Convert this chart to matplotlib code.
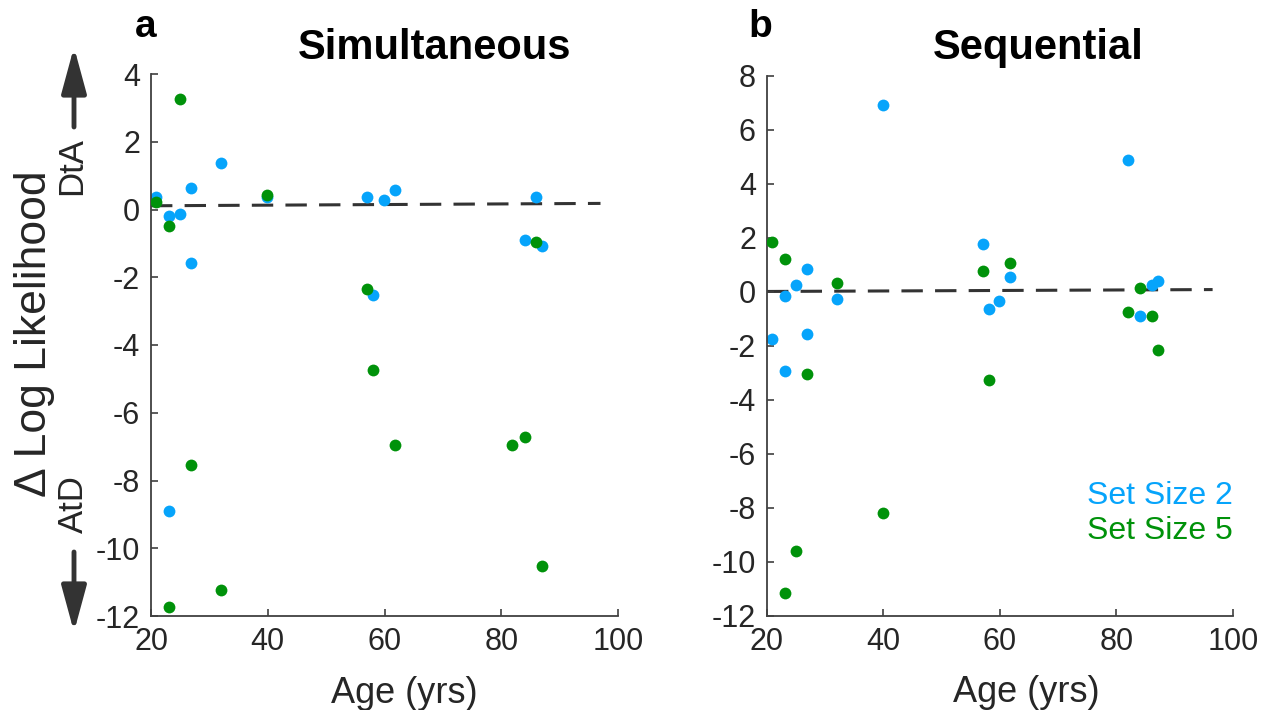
import matplotlib
matplotlib.use('Agg')
import matplotlib.pyplot as plt
from matplotlib.patches import FancyArrowPatch

plt.rcParams['font.family'] = ['Liberation Sans', 'DejaVu Sans']
plt.rcParams['axes.unicode_minus'] = False

BLUE = '#06a4fb'
GREEN = '#00920a'
GREY = '#262626'
AXC = '#404040'

# Simultaneous (panel a)
sim_age_ss2 = [20.9, 23.1, 25.0, 26.9, 26.9, 32.0, 39.9, 57.0, 58.0, 59.9, 61.8, 84.1, 86.0, 87.0, 23.1]
sim_ll_ss2 = [0.36, -0.18, -0.12, 0.62, -1.58, 1.36, 0.36, 0.38, -2.51, 0.29, 0.57, -0.91, 0.38, -1.07, -8.90]
sim_age_ss5 = [20.9, 23.1, 25.0, 39.9, 57.0, 86.0, 58.0, 61.8, 26.9, 81.8, 84.1, 87.0, 32.0, 23.1]
sim_ll_ss5 = [0.21, -0.50, 3.27, 0.43, -2.36, -0.96, -4.74, -6.94, -7.54, -6.94, -6.71, -10.53, -11.22, -11.73]
sim_line_x = [20, 97]
sim_line_y = [0.11, 0.18]

# Sequential (panel b)
seq_age_ss2 = [39.9, 81.9, 57.0, 26.9, 24.9, 23.1, 32.0, 61.8, 58.1, 59.9, 84.1, 86.1, 87.1, 20.9, 26.9, 23.1]
seq_ll_ss2 = [6.93, 4.88, 1.79, 0.85, 0.26, -0.14, -0.27, 0.55, -0.63, -0.32, -0.90, 0.25, 0.39, -1.74, -1.54, -2.92]
seq_age_ss5 = [20.9, 23.1, 32.0, 57.0, 61.8, 84.1, 81.9, 86.1, 87.1, 26.9, 58.1, 39.9, 24.9, 23.1]
seq_ll_ss5 = [1.84, 1.21, 0.32, 0.79, 1.07, 0.16, -0.74, -0.90, -2.13, -3.04, -3.27, -8.18, -9.58, -11.15]
seq_line_x = [20, 96.5]
seq_line_y = [0.02, 0.09]

x_ticks = [20, 40, 60, 80, 100]
sim_yticks = list(range(-12, 5, 2))
seq_yticks = list(range(-12, 9, 2))

W, H = 1276, 710
fig = plt.figure(figsize=(W / 100, H / 100), dpi=100)

ax1 = fig.add_axes([151 / W, 1 - 616 / H, 467 / W, 542 / H])
ax2 = fig.add_axes([767 / W, 1 - 616 / H, 466 / W, 540 / H])


def style(ax, yticks, ylim):
    ax.set_xlim(20, 100)
    ax.set_ylim(*ylim)
    ax.set_xticks(x_ticks)
    ax.set_yticks(yticks)
    for s in ['top', 'right']:
        ax.spines[s].set_visible(False)
    for s in ['left', 'bottom']:
        ax.spines[s].set_color(AXC)
        ax.spines[s].set_linewidth(1.3)
    ax.tick_params(direction='in', length=5, width=1.2, color=AXC,
                   labelsize=22, labelcolor=GREY, pad=8)


def draw(ax, a2, v2, a5, v5, lx, ly):
    ax.plot(lx, ly, ls=(0, (7, 4)), color='#333333', lw=2.2, zorder=1)
    ax.plot(a2, v2, 'o', color=BLUE, ms=8.5, mec='none', zorder=2)
    ax.plot(a5, v5, 'o', color=GREEN, ms=8.5, mec='none', zorder=3)


draw(ax1, sim_age_ss2, sim_ll_ss2, sim_age_ss5, sim_ll_ss5, sim_line_x, sim_line_y)
draw(ax2, seq_age_ss2, seq_ll_ss2, seq_age_ss5, seq_ll_ss5, seq_line_x, seq_line_y)
style(ax1, sim_yticks, (-12, 4))
style(ax2, seq_yticks, (-12, 8))

for ax, xl in [(ax1, 0.542), (ax2, 0.556)]:
    ax.set_xlabel('Age (yrs)', fontsize=26, color=GREY, labelpad=6)
    ax.xaxis.set_label_coords(xl, -0.11)

# titles and panel letters
fig.text(435 / W, 1 - 59 / H, 'Simultaneous', fontsize=30, fontweight='bold',
         ha='center', va='baseline')
fig.text(1038 / W, 1 - 59 / H, 'Sequential', fontsize=30, fontweight='bold',
         ha='center', va='baseline')
fig.text(146 / W, 1 - 37 / H, 'a', fontsize=28, fontweight='bold', ha='center', va='baseline')
fig.text(760 / W, 1 - 37 / H, 'b', fontsize=28, fontweight='bold', ha='center', va='baseline')

# legend as coloured text
ax2.text(1.0, 0.222, 'Set Size 2', transform=ax2.transAxes, color=BLUE,
         fontsize=23, ha='right', va='center')
ax2.text(1.0, 0.157, 'Set Size 5', transform=ax2.transAxes, color=GREEN,
         fontsize=23, ha='right', va='center')

# y label with direction arrows
fig.text(35 / W, 1 - 334 / H, '\u0394 Log Likelihood', fontsize=32, color=GREY,
         rotation=90, ha='center', va='center')
fig.text(72 / W, 1 - 166 / H, 'DtA', fontsize=25, color=GREY,
         rotation=90, ha='center', va='center')
fig.text(73 / W, 1 - 504 / H, 'AtD', fontsize=25, color=GREY,
         rotation=90, ha='center', va='center')

arrow_x = 74 / W
for y0, y1 in [(127, 47), (552, 632)]:
    fig.add_artist(FancyArrowPatch((arrow_x, 1 - y0 / H), (arrow_x, 1 - y1 / H),
                                   transform=fig.transFigure,
                                   arrowstyle='-|>,head_length=1.4,head_width=0.38',
                                   mutation_scale=20, lw=3.5, color='#333333',
                                   shrinkA=0, shrinkB=0))

fig.savefig('out.png', dpi=100)
